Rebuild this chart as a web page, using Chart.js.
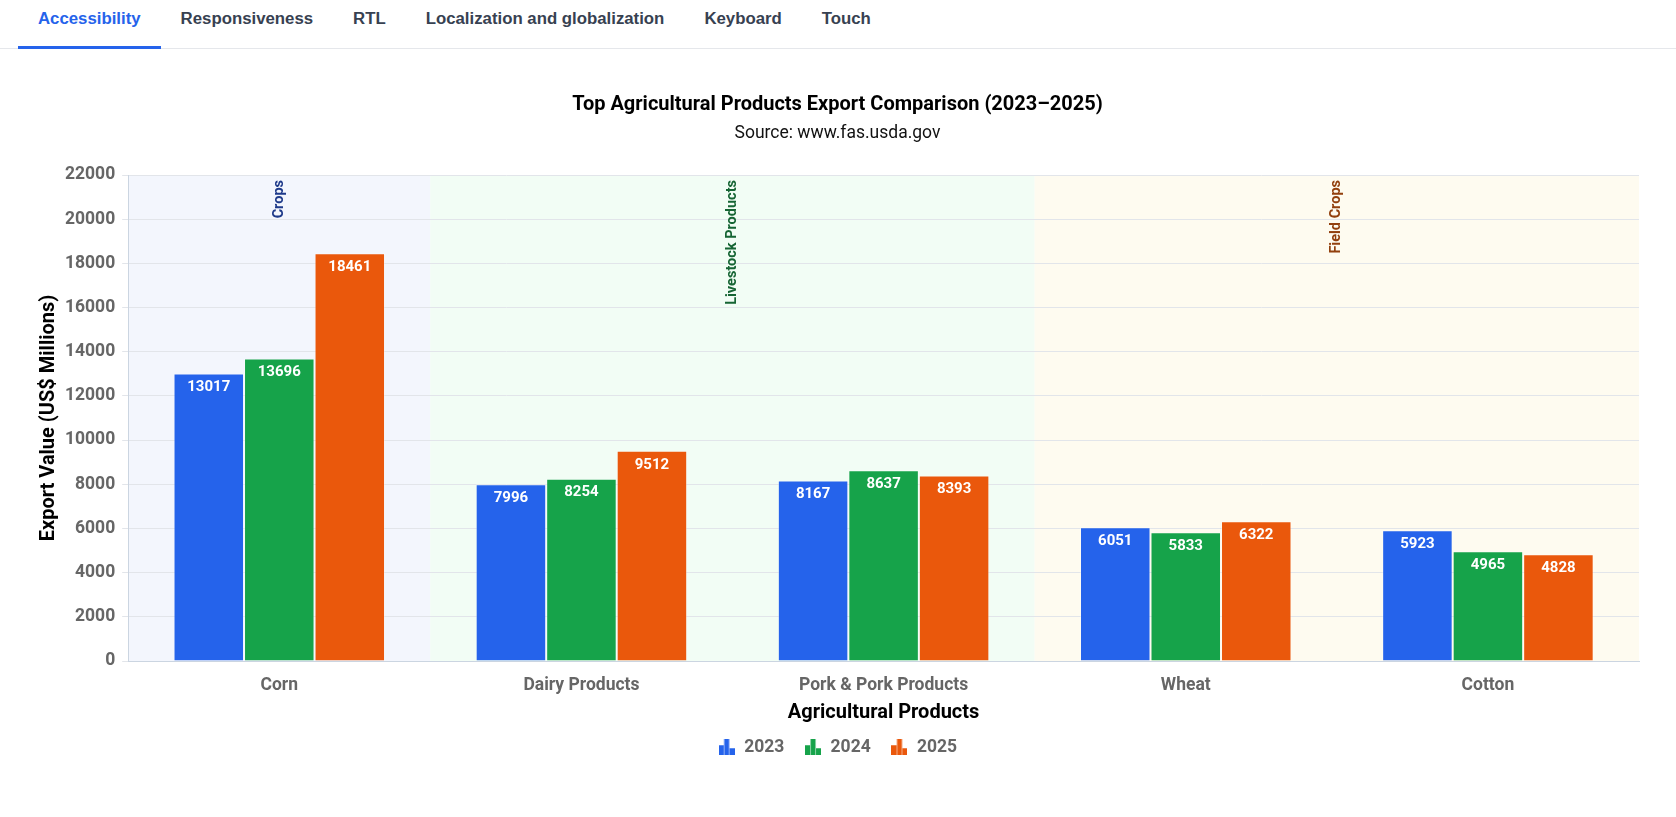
<!DOCTYPE html>
<html>
<head>
<meta charset="utf-8">
<script src="https://cdn.jsdelivr.net/npm/chart.js@4.4.0/dist/chart.umd.min.js"></script>
<style>
  body { margin: 0; background: #fff; font-family: 'Liberation Sans', Arial, sans-serif; }
  .tabs { display: flex; height: 48px; border-bottom: 1px solid #e5e7eb; padding-left: 18px; }
  .tab { padding: 0 20px; line-height: 37px; font-size: 16.8px; font-weight: bold; color: #374151; position: relative; }
  .tab.active { color: #2563eb; }
  .tab.active::after { content: ''; position: absolute; left: 0; right: 0; bottom: -1px; height: 3px; background: #2563eb; }
  .wrap { position: absolute; top: 50px; left: 0; width: 1676px; height: 760px; }
</style>
</head>
<body>
<div class="tabs">
  <div class="tab active">Accessibility</div>
  <div class="tab">Responsiveness</div>
  <div class="tab">RTL</div>
  <div class="tab">Localization and globalization</div>
  <div class="tab">Keyboard</div>
  <div class="tab">Touch</div>
</div>
<div class="wrap"><canvas id="chart"></canvas></div>
<script>
const products = ['Corn', 'Dairy Products', 'Pork & Pork Products', 'Wheat', 'Cotton']
const years = ['2023', '2024', '2025']
const values2023 = [13017, 7996, 8167, 6051, 5923]
const values2024 = [13696, 8254, 8637, 5833, 4965]
const values2025 = [18461, 9512, 8393, 6322, 4828]
const groupNames = ['Crops', 'Livestock Products', 'Field Crops']
const groupFirst = [0, 1, 3]
const groupLast = [0, 2, 4]
const yTicks = [0, 2000, 4000, 6000, 8000, 10000, 12000, 14000, 16000, 18000, 20000, 22000]

const barColors = ['#2563eb', '#16a34a', '#ea580c']
const bandFills = ['#f3f6fd', '#f2fdf5', '#fefbf0']
const bandText = ['#1e3a8a', '#166534', '#92400e']
const font = 'Roboto'

// little bar-chart glyph used as legend marker
const legendIcon = color => {
  const c = document.createElement('canvas')
  c.width = 16
  c.height = 16
  const g = c.getContext('2d')
  g.fillStyle = color
  g.fillRect(0, 6, 5, 10)
  g.fillRect(5.5, 0, 5, 16)
  g.fillRect(11, 9, 5, 7)
  return c
}

const bands = {
  id: 'bands',
  beforeDraw(chart) {
    const { ctx, chartArea, scales } = chart
    const x = scales.x
    const half = (x.getPixelForValue(1) - x.getPixelForValue(0)) / 2
    ctx.save()
    groupNames.forEach((name, i) => {
      const left = x.getPixelForValue(groupFirst[i]) - half
      const right = x.getPixelForValue(groupLast[i]) + half
      ctx.fillStyle = bandFills[i]
      ctx.fillRect(left, chartArea.top, right - left, chartArea.bottom - chartArea.top)
    })
    ctx.restore()
  },
  afterDatasetsDraw(chart) {
    const { ctx, chartArea, scales } = chart
    const x = scales.x
    const half = (x.getPixelForValue(1) - x.getPixelForValue(0)) / 2
    ctx.save()
    ctx.font = 'bold 14.5px ' + font
    groupNames.forEach((name, i) => {
      const cx = (x.getPixelForValue(groupFirst[i]) - half + x.getPixelForValue(groupLast[i]) + half) / 2
      ctx.save()
      ctx.translate(cx, chartArea.top + 5)
      ctx.rotate(-Math.PI / 2)
      ctx.fillStyle = bandText[i]
      ctx.textAlign = 'right'
      ctx.textBaseline = 'middle'
      ctx.fillText(name, 0, 0)
      ctx.restore()
    })
    // value labels inside bars
    ctx.font = 'bold 15px ' + font
    ctx.fillStyle = '#ffffff'
    ctx.textAlign = 'center'
    ctx.textBaseline = 'middle'
    chart.data.datasets.forEach((ds, di) => {
      chart.getDatasetMeta(di).data.forEach((bar, j) => {
        ctx.fillText(ds.data[j], bar.x, bar.y + 14)
      })
    })
    ctx.restore()
  }
}

const context = document.getElementById('chart')
const myChart = new Chart(context, {
  type: 'bar',
  data: {
    labels: products,
    datasets: [values2023, values2024, values2025].map((vals, i) => ({
      label: years[i],
      data: vals,
      backgroundColor: barColors[i],
      borderColor: 'rgba(255,255,255,0.35)',
      borderWidth: 1,
      pointStyle: legendIcon(barColors[i]),
      categoryPercentage: 0.7,
      barPercentage: 1
    }))
  },
  options: {
    responsive: true,
    maintainAspectRatio: false,
    animation: false,
    layout: { padding: { left: 36, right: 37, top: 33, bottom: 44 } },
    plugins: {
      title: {
        display: true,
        text: 'Top Agricultural Products Export Comparison (2023\u20132025)',
        color: '#000',
        font: { family: font, size: 20, weight: 'bold' },
        padding: { top: 10, bottom: 6 }
      },
      subtitle: {
        display: true,
        text: 'Source: www.fas.usda.gov',
        color: '#111',
        font: { family: font, size: 17.5 },
        padding: { top: 0, bottom: 31 }
      },
      legend: {
        position: 'bottom',
        labels: {
          usePointStyle: true,
          color: '#666',
          font: { family: font, size: 17.5, weight: 'bold' },
          padding: 20
        }
      },
      tooltip: { enabled: false }
    },
    scales: {
      x: {
        grid: { display: false, drawTicks: false },
        border: { color: '#cbd5e1' },
        ticks: { color: '#666', font: { family: font, size: 17.5, weight: 'bold' }, padding: 14 },
        title: {
          display: true,
          text: 'Agricultural Products',
          color: '#000',
          font: { family: font, size: 20, weight: 'bold' },
          padding: { top: -9.5, bottom: -6 }
        }
      },
      y: {
        min: 0,
        max: yTicks[yTicks.length - 1],
        afterBuildTicks: axis => { axis.ticks = yTicks.map(v => ({ value: v })) },
        grid: { color: '#e2e5ea', tickLength: 6 },
        border: { color: '#cbd5e1' },
        ticks: {
          color: '#666',
          font: { family: font, size: 17.5, weight: 'bold' },
          padding: 7,
          callback: v => String(v)
        },
        title: {
          display: true,
          text: 'Export Value (US$ Millions)',
          color: '#000',
          font: { family: font, size: 20, weight: 'bold' },
          padding: { top: 1, bottom: -3 }
        }
      }
    }
  },
  plugins: [bands]
})
</script>
</body>
</html>
